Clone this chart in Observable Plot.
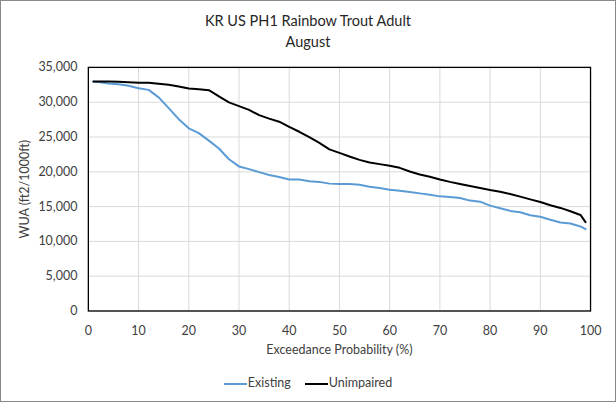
<!DOCTYPE html>
<html>
<head>
<meta charset="utf-8">
<script src="https://cdn.jsdelivr.net/npm/d3@7"></script>
<script src="https://cdn.jsdelivr.net/npm/@observablehq/plot@0.6"></script>
<style>
  html, body { margin: 0; padding: 0; background: #fff; }
  #wrap { position: relative; width: 614px; height: 400px; border: 1px solid #898989; font-family: Lato, "Open Sans", sans-serif; color: #404040; overflow: hidden; }
  #title { position: absolute; left: 0; width: 614px; top: 9px; text-align: center; font-size: 14.5px; line-height: 21px; color: #262626; }
  #legend { position: absolute; left: 0; width: 614px; top: 374px; text-align: center; font-size: 12.5px; color: #404040; }
  .sw { display: inline-block; width: 23px; height: 2px; vertical-align: middle; margin-right: 1px; }
  .item { display: inline-block; margin: 0 7px; }
  #chart { position: absolute; left: -1px; top: -1px; }
</style>
</head>
<body>
<div id="wrap">
  <div id="chart"></div>
  <div id="title">KR US PH1 Rainbow Trout Adult<br>August</div>
  <div id="legend"></div>
</div>
<script>
const title = "KR US PH1 Rainbow Trout Adult";
const subtitle = "August";
const xLabel = "Exceedance Probability (%)";
const yLabel = "WUA (ft2/1000ft)";
const seriesNames = ["Existing", "Unimpaired"];
const seriesColors = ["#5B9BD5", "#000000"];
const xTicks = [0, 10, 20, 30, 40, 50, 60, 70, 80, 90, 100];
const yTicks = [0, 5000, 10000, 15000, 20000, 25000, 30000, 35000];

const prob = [1, 2, 4, 6, 8, 10, 12, 14, 16, 18, 20, 22, 24, 26, 28, 30, 32, 34, 36, 38, 40,
  42, 44, 46, 48, 50, 52, 54, 56, 58, 60, 62, 64, 66, 68, 70, 72, 74, 76, 78, 80,
  82, 84, 86, 88, 90, 92, 94, 96, 98, 99];

const existing = [32950, 32900, 32700, 32580, 32350, 32000, 31770, 30690, 29150, 27560, 26250,
  25560, 24480, 23340, 21800, 20770, 20380, 19950, 19550, 19250, 18900,
  18880, 18650, 18550, 18300, 18240, 18240, 18140, 17860, 17670, 17430,
  17290, 17100, 16900, 16710, 16470, 16380, 16240, 15860, 15710, 15140,
  14760, 14380, 14190, 13760, 13530, 13100, 12710, 12570, 12150, 11750];

const unimpaired = [32980, 32980, 32960, 32930, 32870, 32790, 32790, 32640, 32500, 32260, 31960,
  31860, 31720, 30850, 29970, 29440, 28900, 28140, 27640, 27200, 26440,
  25750, 24980, 24150, 23220, 22710, 22190, 21710, 21330, 21100, 20860,
  20570, 20040, 19610, 19290, 18900, 18550, 18240, 17960, 17670, 17380,
  17140, 16810, 16430, 16040, 15670, 15190, 14810, 14330, 13800, 12760];

const rows = [];
prob.forEach((p, i) => {
  rows.push({series: seriesNames[0], x: p, y: existing[i]});
  rows.push({series: seriesNames[1], x: p, y: unimpaired[i]});
});

const fmt = d3.format(",");

const chart = Plot.plot({
  width: 616,
  height: 402,
  marginTop: 67,
  marginBottom: 91,
  marginLeft: 88,
  marginRight: 25,
  style: {fontFamily: "Lato, 'Open Sans', sans-serif", fontSize: "12.5px", color: "#404040", background: "transparent"},
  x: {domain: [0, 100], ticks: xTicks, label: null},
  y: {domain: [0, 35000], ticks: yTicks, label: null},
  color: {domain: seriesNames, range: seriesColors},
  marks: [
    Plot.gridX(xTicks, {stroke: "#d9d9d9", strokeOpacity: 1, strokeWidth: 1}),
    Plot.gridY(yTicks, {stroke: "#d9d9d9", strokeOpacity: 1, strokeWidth: 1}),
    Plot.line(rows, {x: "x", y: "y", z: "series", stroke: "series", strokeWidth: 2, curve: "linear"}),
    Plot.frame({stroke: "#000", strokeWidth: 1.3}),
    Plot.axisX(xTicks, {tickSize: 0, tickPadding: 15, label: xLabel, labelAnchor: "center", labelArrow: "none", labelOffset: 43, fill: "#404040"}),
    Plot.axisY(yTicks, {tickSize: 0, tickPadding: 11, tickFormat: fmt, label: yLabel, labelAnchor: "center", labelArrow: "none", labelOffset: 68, fill: "#404040"})
  ]
});
document.getElementById("chart").appendChild(chart);

const legend = document.getElementById("legend");
seriesNames.forEach((name, i) => {
  const item = document.createElement("span");
  item.className = "item";
  const sw = document.createElement("span");
  sw.className = "sw";
  sw.style.background = seriesColors[i];
  item.appendChild(sw);
  item.appendChild(document.createTextNode(name));
  legend.appendChild(item);
});
</script>
</body>
</html>
